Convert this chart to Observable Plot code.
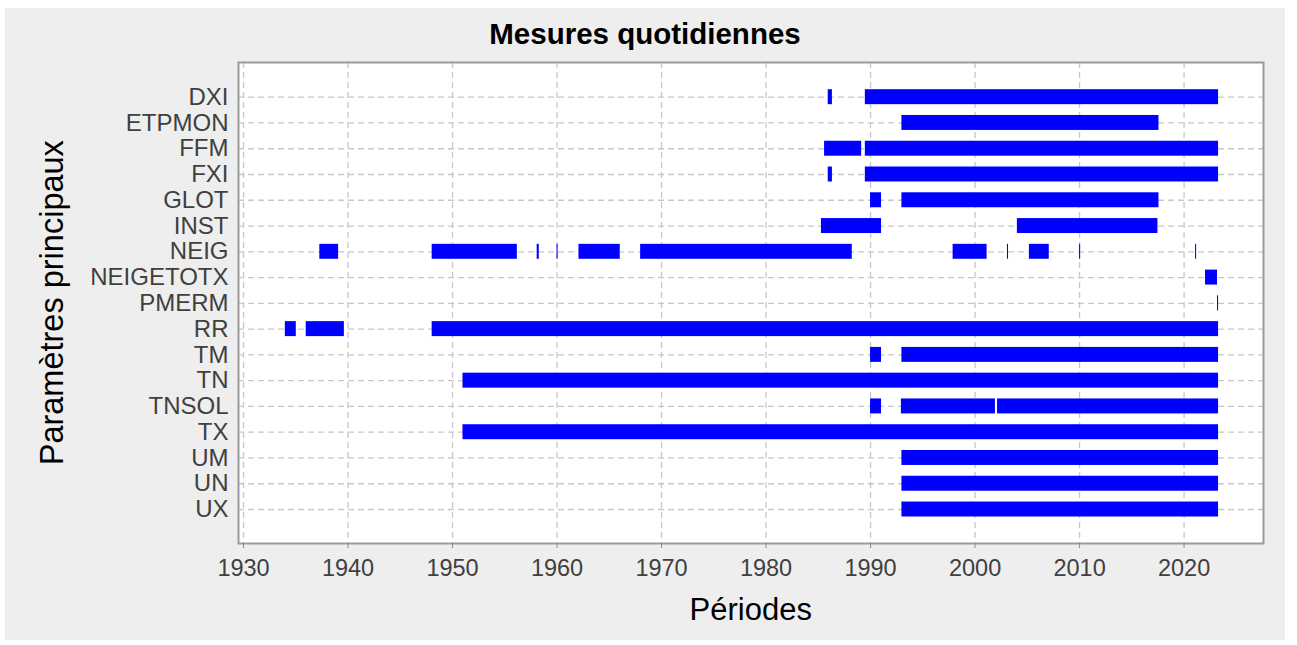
<!DOCTYPE html>
<html>
<head>
<meta charset="utf-8">
<script src="https://cdn.jsdelivr.net/npm/d3@7"></script>
<script src="https://cdn.jsdelivr.net/npm/@observablehq/plot@0.6"></script>
<style>
  html, body { margin: 0; padding: 0; background: #ffffff; }
  #wrap { position: relative; width: 1297px; height: 645px; overflow: hidden; }
  #bg { position: absolute; left: 5px; top: 8px; width: 1280px; height: 632px; background: #eeeeee; }
  #title { position: absolute; left: 5px; width: 1280px; top: 17px; line-height: 30px; text-align: center;
           font: bold 29.5px "Liberation Sans", Arial, sans-serif; color: #000; margin: 0; }
  #chart { position: absolute; left: 0; top: 0; }
</style>
</head>
<body>
<div id="wrap">
  <div id="bg"></div>
  <div id="chart"></div>
  <h1 id="title">Mesures quotidiennes</h1>
</div>
<script>
// Parameters (y categories, top to bottom)
const categories = ["DXI","ETPMON","FFM","FXI","GLOT","INST","NEIG","NEIGETOTX","PMERM","RR","TM","TN","TNSOL","TX","UM","UN","UX"];

const segParam = [
  "DXI","DXI",
  "ETPMON",
  "FFM","FFM",
  "FXI","FXI",
  "GLOT","GLOT",
  "INST","INST",
  "NEIG","NEIG","NEIG","NEIG","NEIG","NEIG","NEIG","NEIG","NEIG","NEIG","NEIG",
  "NEIGETOTX",
  "PMERM",
  "RR","RR","RR",
  "TM","TM",
  "TN",
  "TNSOL","TNSOL","TNSOL",
  "TX",
  "UM",
  "UN",
  "UX"
];
const segStart = [
  1985.95, 1989.5,
  1993.0,
  1985.6, 1989.5,
  1985.95, 1989.5,
  1990.0, 1993.0,
  1985.3, 2004.05,
  1937.3, 1948.05, 1958.1, 1960.0, 1962.1, 1968.0, 1997.9, 2003.1, 2005.2, 2010.0, 2021.1,
  2022.05,
  2023.2,
  1934.0, 1936.0, 1948.05,
  1990.0, 1993.0,
  1951.0,
  1990.0, 1992.95, 2002.15,
  1951.0,
  1993.0,
  1993.0,
  1993.0
];
const segEnd = [
  1986.35, 2023.3,
  2017.6,
  1989.15, 2023.3,
  1986.35, 2023.3,
  1991.05, 2017.6,
  1991.05, 2017.5,
  1939.1, 1956.2, 1958.3, 1960.1, 1966.05, 1988.25, 2001.15, 2003.2, 2007.1, 2010.1, 2021.2,
  2023.2,
  2023.3,
  1935.05, 1939.65, 2023.3,
  1991.05, 2023.3,
  2023.3,
  1991.05, 2001.95, 2023.3,
  2023.3,
  2023.3,
  2023.3,
  2023.3
];

const xTicks = [1930, 1940, 1950, 1960, 1970, 1980, 1990, 2000, 2010, 2020];

const segments = segParam.map((p, i) => ({param: p, start: segStart[i], end: segEnd[i]}));

const fontFam = '"Liberation Sans", Arial, Helvetica, sans-serif';

const chart = Plot.plot({
  width: 1297,
  height: 645,
  marginLeft: 238,
  marginRight: 34,
  marginTop: 62,
  marginBottom: 102,
  style: {background: "transparent", fontFamily: fontFam, fontSize: "22px", overflow: "visible"},
  x: {domain: [1929.52, 2027.6]},
  y: {type: "band", domain: categories, range: [83.8, 521.9], padding: 0, round: false},
  marks: [
    Plot.frame({fill: "#ffffff", stroke: null}),
    Plot.gridX(xTicks, {stroke: "#c8c8c8", strokeOpacity: 1, strokeWidth: 1.3, strokeDasharray: "6,4"}),
    Plot.gridY(categories, {stroke: "#c8c8c8", strokeOpacity: 1, strokeWidth: 1.3, strokeDasharray: "6,4"}),
    Plot.barX(segments, {x1: "start", x2: "end", y: "param", fill: "#0000ff", insetTop: 5.4, insetBottom: 5.4}),
    Plot.frame({stroke: "#9a9a9a", strokeWidth: 2}),
    Plot.axisX(xTicks, {label: null, tickFormat: d => String(d), tickSize: 5, tickPadding: 11, stroke: "#8a8a8a", fill: "#404040", fontSize: 23.5}),
    Plot.axisY({label: null, tickSize: 0, tickPadding: 10, fill: "#404040", fontSize: 24})
  ]
});

document.getElementById("chart").appendChild(chart);

const svg = d3.select(chart);
svg.append("text")
  .attr("x", 750.8).attr("y", 620)
  .attr("text-anchor", "middle")
  .attr("font-family", fontFam)
  .attr("font-size", 31)
  .attr("fill", "#000")
  .text("Périodes");
svg.append("text")
  .attr("transform", "translate(63.3,302.7) rotate(-90)")
  .attr("text-anchor", "middle")
  .attr("font-family", fontFam)
  .attr("font-size", 32.5)
  .attr("fill", "#000")
  .text("Paramètres principaux");
</script>
</body>
</html>
